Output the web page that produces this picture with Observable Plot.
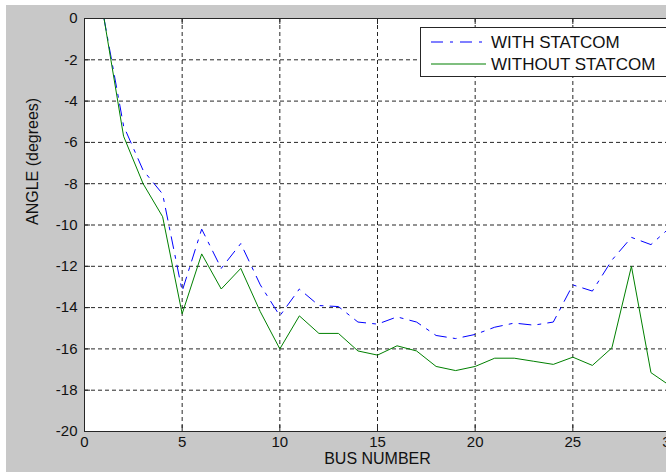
<!DOCTYPE html>
<html>
<head>
<meta charset="utf-8">
<script src="https://cdn.jsdelivr.net/npm/d3@7"></script>
<script src="https://cdn.jsdelivr.net/npm/@observablehq/plot@0.6"></script>
<style>
  html, body { margin: 0; padding: 0; background: #ffffff; }
  body { width: 666px; height: 472px; overflow: hidden; position: relative; font-family: "Liberation Sans", Arial, sans-serif; }
  #backdrop { position: absolute; left: 6px; top: 5px; right: 0; bottom: 0; background: #c8c8c8; }
  #chart { position: absolute; left: 0; top: 0; width: 676px; }
  #chart svg { max-width: none !important; }
  #legend { position: absolute; left: 420px; top: 27px; width: 260px; height: 50px;
            background: #ffffff; border: 1px solid #262626; box-sizing: border-box; }
  #legend svg { position: absolute; left: 0; top: 0; overflow: visible; }
</style>
</head>
<body>
<div id="backdrop"></div>
<div id="chart"></div>
<div id="legend"></div>
<script>
// Bus voltage angles (degrees) along the 30-bus system
const busNumbers = d3.range(1, 31);
const withStatcom = [
  0, -5.2, -7.35, -8.5, -13.2, -10.2, -12.1, -10.9, -12.9, -14.4,
  -13.1, -13.9, -13.95, -14.7, -14.8, -14.45, -14.7, -15.35, -15.5, -15.3,
  -14.95, -14.75, -14.85, -14.7, -12.9, -13.2, -11.7, -10.6, -10.95, -10.1
];
const withoutStatcom = [
  0, -5.7, -8.0, -9.6, -14.3, -11.4, -13.1, -12.1, -14.2, -16.0,
  -14.4, -15.25, -15.25, -16.1, -16.3, -15.85, -16.1, -16.85, -17.05, -16.85,
  -16.45, -16.45, -16.6, -16.75, -16.4, -16.8, -15.95, -12.0, -17.15, -17.8
];
const seriesNames = ["WITH STATCOM", "WITHOUT STATCOM"];
const xTicks = [0, 5, 10, 15, 20, 25, 30];
const yTicks = [-20, -18, -16, -14, -12, -10, -8, -6, -4, -2, 0];

const rowsWith = busNumbers.map((b, i) => ({bus: b, angle: withStatcom[i]}));
const rowsWithout = busNumbers.map((b, i) => ({bus: b, angle: withoutStatcom[i]}));

const blue = "#0000ff";
const green = "#008000";
const ink = "#262626";
const grid = {stroke: "#000", strokeOpacity: 0.85, strokeDasharray: "4,3", strokeWidth: 1};
const plain = d => String(d); // ASCII hyphen for negative tick labels

const chart = Plot.plot({
  width: 676,
  height: 472,
  marginLeft: 84,
  marginRight: 6,
  marginTop: 18,
  marginBottom: 41,
  style: {background: "transparent", fontFamily: "'Liberation Sans', Arial, sans-serif", fontSize: "15px", color: "#111", overflow: "visible", maxWidth: "none"},
  x: {domain: [0, 30]},
  y: {domain: [-20, 0]},
  marks: [
    Plot.frame({fill: "white", stroke: null}),
    Plot.gridX(xTicks, grid),
    Plot.gridY(yTicks, grid),
    Plot.line(rowsWith, {x: "bus", y: "angle", stroke: blue, strokeWidth: 1, strokeDasharray: "12,7,3,7"}),
    Plot.line(rowsWithout, {x: "bus", y: "angle", stroke: green, strokeWidth: 1}),
    // inward tick marks on all four sides
    Plot.tickX(xTicks, {x: d => d, insetTop: 407, stroke: ink}),
    Plot.tickX(xTicks, {x: d => d, insetBottom: 407, stroke: ink}),
    Plot.tickY(yTicks, {y: d => d, insetRight: 580, stroke: ink}),
    Plot.frame({stroke: ink, strokeWidth: 1}),
    Plot.axisX(xTicks, {tickSize: 0, tickPadding: 5, label: null, fill: "#111", tickFormat: plain}),
    Plot.axisY(yTicks, {tickSize: 0, tickPadding: 7, label: null, fill: "#111", tickFormat: plain}),
    Plot.text(["BUS NUMBER"], {frameAnchor: "bottom", dy: 32, fontSize: 16, fill: "#111"}),
    Plot.text(["ANGLE (degrees)"], {frameAnchor: "left", dx: -52, rotate: -90, fontSize: 16, fill: "#111"})
  ]
});
document.getElementById("chart").appendChild(chart);

// Legend: line samples and series names
const legendStyles = [
  {stroke: blue, dash: "12,7,3,7"},
  {stroke: green, dash: null}
];
const leg = d3.select("#legend").append("svg").attr("width", 260).attr("height", 50);
seriesNames.forEach((name, i) => {
  const y = 14 + i * 22;
  leg.append("line")
    .attr("x1", 10).attr("x2", 65).attr("y1", y).attr("y2", y)
    .attr("stroke", legendStyles[i].stroke)
    .attr("stroke-width", 1.2)
    .attr("stroke-dasharray", legendStyles[i].dash);
  leg.append("text")
    .attr("x", 70).attr("y", y).attr("dy", "0.35em")
    .attr("font-size", 17).attr("fill", "#111")
    .attr("font-family", "'Liberation Sans', Arial, sans-serif")
    .text(name);
});
</script>
</body>
</html>
